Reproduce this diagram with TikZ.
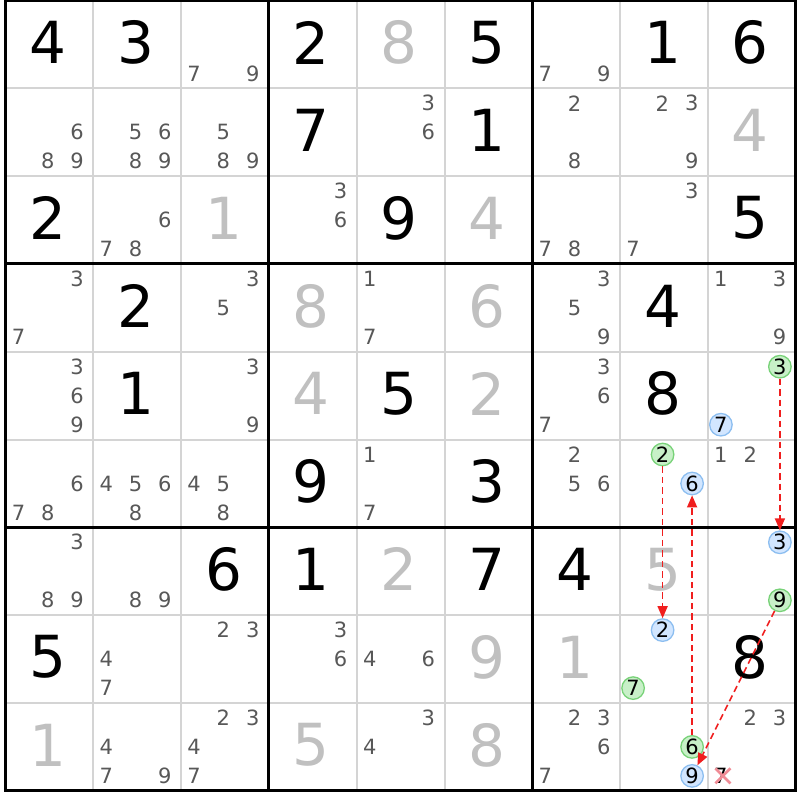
\documentclass[tikz,border=0pt]{standalone}
\usepackage{fontspec}
\setmainfont{DejaVu Sans}
\usetikzlibrary{arrows.meta}
\definecolor{thingrid}{RGB}{212,212,212}
\definecolor{solvedgray}{RGB}{192,192,192}
\definecolor{candgray}{RGB}{88,88,88}
\definecolor{gfill}{RGB}{200,240,200}
\definecolor{gline}{RGB}{120,210,120}
\definecolor{bfill}{RGB}{210,230,255}
\definecolor{bline}{RGB}{140,190,240}
\definecolor{linkred}{RGB}{240,30,30}
\definecolor{xred}{RGB}{240,140,150}
\newcommand\bigdig{\fontsize{58}{58}\selectfont}
\newcommand\smalldig{\fontsize{21}{21}\selectfont}
\begin{document}
\begin{tikzpicture}[x=1pt,y=-1pt,
  given/.style={inner sep=0pt, font=\bigdig, text=black},
  solvd/.style={inner sep=0pt, font=\bigdig, text=solvedgray},
  pm/.style={inner sep=0pt, font=\smalldig, text=candgray},
  gmark/.style={circle, draw=gline, fill=gfill, line width=1.3pt, minimum size=22.5pt, inner sep=0pt, font=\smalldig, text=black},
  bmark/.style={circle, draw=bline, fill=bfill, line width=1.3pt, minimum size=22.5pt, inner sep=0pt, font=\smalldig, text=black},
  link/.style={draw=linkred, line width=1.5pt, dash pattern=on 6.5pt off 4pt, -{Triangle[length=12pt,width=10pt]}},
  xmark/.style={draw=xred, line width=2.6pt},
  thinline/.style={draw=thingrid, line width=2pt},
  thickline/.style={draw=black, line width=3pt}]
\useasboundingbox (0,0) rectangle (800,800);
\fill[white] (0,0) rectangle (800,800);
\def\gx{5.5}
\def\gy{0.5}
\def\cs{87.8}
% grid
\foreach \i in {1,2,4,5,7,8} {
  \draw[thinline] ({\gx+\cs*\i},\gy) -- ({\gx+\cs*\i},{\gy+9*\cs});
  \draw[thinline] (\gx,{\gy+\cs*\i}) -- ({\gx+9*\cs},{\gy+\cs*\i});
}
\foreach \i in {3,6} {
  \draw[thickline] ({\gx+\cs*\i},\gy) -- ({\gx+\cs*\i},{\gy+9*\cs});
  \draw[thickline] (\gx,{\gy+\cs*\i}) -- ({\gx+9*\cs},{\gy+\cs*\i});
}
\draw[thickline] (\gx,\gy) rectangle ({\gx+9*\cs},{\gy+9*\cs});
% givens
\foreach \r/\c/\d in {0/0/4, 0/1/3, 0/3/2, 0/5/5, 0/7/1, 0/8/6, 1/3/7, 1/5/1, 2/0/2, 2/4/9, 2/8/5, 3/1/2, 3/7/4, 4/1/1, 4/4/5, 4/7/8, 5/3/9, 5/5/3, 6/2/6, 6/3/1, 6/5/7, 6/6/4, 7/0/5, 7/8/8}
  \node[given] (v\r\c) at ({\gx+\cs*(\c+0.5)-1.4},{\gy+\cs*(\r+0.5)-1.8}) {\d};
% solved
\foreach \r/\c/\d in {0/4/8, 1/8/4, 2/2/1, 2/5/4, 3/3/8, 3/5/6, 4/3/4, 4/5/2, 6/4/2, 6/7/5, 7/5/9, 7/6/1, 8/0/1, 8/3/5, 8/5/8}
  \node[solvd] (s\r\c) at ({\gx+\cs*(\c+0.5)-1.4},{\gy+\cs*(\r+0.5)-1.8}) {\d};
% candidates
\foreach \r/\c/\L in {0/2/{7,9}, 0/6/{7,9}, 1/0/{6,8,9}, 1/1/{5,6,8,9}, 1/2/{5,8,9}, 1/4/{3,6}, 1/6/{2,8}, 1/7/{2,3,9}, 2/1/{6,7,8}, 2/3/{3,6}, 2/6/{7,8}, 2/7/{3,7}, 3/0/{3,7}, 3/2/{3,5}, 3/4/{1,7}, 3/6/{3,5,9}, 3/8/{1,3,9}, 4/0/{3,6,9}, 4/2/{3,9}, 4/6/{3,6,7}, 5/0/{6,7,8}, 5/1/{4,5,6,8}, 5/2/{4,5,8}, 5/4/{1,7}, 5/6/{2,5,6}, 5/8/{1,2}, 6/0/{3,8,9}, 6/1/{8,9}, 7/1/{4,7}, 7/2/{2,3}, 7/3/{3,6}, 7/4/{4,6}, 8/1/{4,7,9}, 8/2/{2,3,4,7}, 8/4/{3,4}, 8/6/{2,3,6,7}, 8/8/{2,3}} {
  \foreach \d in \L {
    \node[pm] (p\r\c\d) at ({\gx+\cs*\c+13+29.3*mod(\d-1,3)},{\gy+\cs*\r+15+29*int((\d-1)/3)}) {\d};
  }
}
% marked candidates
\node[gmark] (ga) at ({\gx+\cs*8+72},{\gy+\cs*4+15}) {3};
\node[bmark] (bb) at ({\gx+\cs*8+13},{\gy+\cs*4+73}) {7};
\node[gmark] (gb) at ({\gx+\cs*7+42.5},{\gy+\cs*5+15}) {2};
\node[bmark] (bc) at ({\gx+\cs*7+72},{\gy+\cs*5+44}) {6};
\node[bmark] (bd) at ({\gx+\cs*8+72},{\gy+\cs*6+15}) {3};
\node[gmark] (gc) at ({\gx+\cs*8+72},{\gy+\cs*6+73}) {9};
\node[bmark] (be) at ({\gx+\cs*7+42.5},{\gy+\cs*7+15}) {2};
\node[gmark] (gd) at ({\gx+\cs*7+13},{\gy+\cs*7+73}) {7};
\node[gmark] (ge) at ({\gx+\cs*7+72},{\gy+\cs*8+44}) {6};
\node[bmark] (bf) at ({\gx+\cs*7+72},{\gy+\cs*8+73}) {9};
\node[pm, text=black] (xs) at ({\gx+\cs*8+13},{\gy+\cs*8+73}) {7};
% links
\draw[link] (ga) -- (bd);
\draw[link] (gb) -- (be);
\draw[link] (ge) -- (bc);
\draw[link] (gc) -- (bf);
% elimination cross
\draw[xmark] ([shift={(-5.5,-7.5)}]xs.center) -- ([shift={(9.5,7.5)}]xs.center);
\draw[xmark] ([shift={(-5.5,7.5)}]xs.center) -- ([shift={(9.5,-7.5)}]xs.center);
\end{tikzpicture}
\end{document}
